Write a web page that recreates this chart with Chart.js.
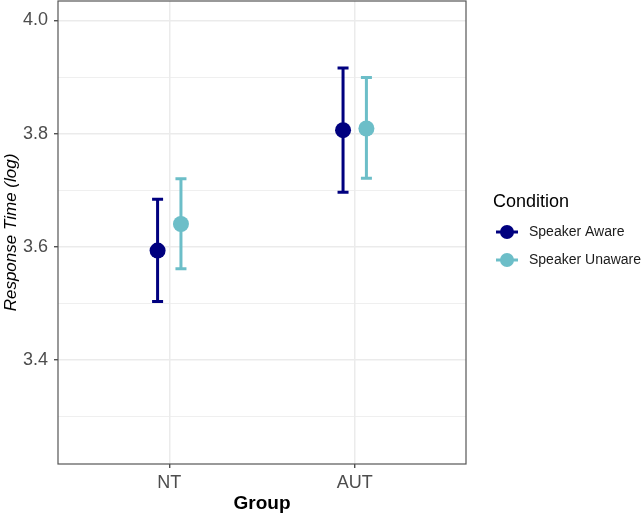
<!DOCTYPE html>
<html>
<head>
<meta charset="utf-8">
<script src="https://cdn.jsdelivr.net/npm/chart.js@4.4.1/dist/chart.umd.min.js"></script>
<style>
  html, body { margin: 0; padding: 0; background: #fff; }
  #wrap { width: 644px; height: 515px; position: relative; }
</style>
</head>
<body>
<div id="wrap"><canvas id="rtChart"></canvas></div>
<script>
// groups on x axis
const groups = ['NT', 'AUT'];
const conditions = ['Speaker Aware', 'Speaker Unaware'];

// means and error bar limits
const awareMean = [3.593, 3.806];
const awareLow = [3.503, 3.696];
const awareHigh = [3.684, 3.916];
const unawareMean = [3.640, 3.809];
const unawareLow = [3.561, 3.721];
const unawareHigh = [3.720, 3.899];

const yTicks = [3.3, 3.4, 3.5, 3.6, 3.7, 3.8, 3.9, 4.0];
const majorTicks = [3.4, 3.6, 3.8, 4.0];

const colAware = '#00007F';
const colUnaware = '#6CBEC8';
const dodge = 0.063;
const fontFam = '"Liberation Sans", Arial, sans-serif';

(()=>{
    const ctx = document.querySelector('#rtChart');

    const mkData = (means, lo, hi, off) => means.map((m, i) => ({
        x: i + 1 + off, y: m, lo: lo[i], hi: hi[i]
    }));
    const isMajor = v => majorTicks.some(m => Math.abs(m - v) < 1e-6);

    const errorBars = {
        id: 'errorBars',
        beforeDatasetsDraw(chart) {
            const c = chart.ctx;
            const xs = chart.scales.x, ys = chart.scales.y;
            chart.data.datasets.forEach(ds => {
                c.save();
                c.strokeStyle = ds.borderColor;
                c.lineWidth = 3;
                ds.data.forEach(p => {
                    const px = xs.getPixelForValue(p.x);
                    const yl = ys.getPixelForValue(p.lo);
                    const yh = ys.getPixelForValue(p.hi);
                    c.beginPath();
                    c.moveTo(px, yl); c.lineTo(px, yh);
                    c.moveTo(px - 5.5, yl); c.lineTo(px + 5.5, yl);
                    c.moveTo(px - 5.5, yh); c.lineTo(px + 5.5, yh);
                    c.stroke();
                });
                c.restore();
            });
        },
        afterDatasetsDraw(chart) {
            // panel border + legend
            const c = chart.ctx;
            const a = chart.chartArea;
            c.save();
            c.strokeStyle = '#555555';
            c.lineWidth = 1.2;
            c.strokeRect(a.left, a.top, a.right - a.left, a.bottom - a.top);

            c.fillStyle = '#000';
            c.font = '18px ' + fontFam;
            c.textBaseline = 'middle';
            c.textAlign = 'left';
            c.fillText('Condition', 493, 202);

            const cols = [colAware, colUnaware];
            const ys = [232, 260];
            cols.forEach((col, i) => {
                c.strokeStyle = col;
                c.fillStyle = col;
                c.lineWidth = 3;
                c.beginPath();
                c.moveTo(496, ys[i]); c.lineTo(518, ys[i]);
                c.stroke();
                c.beginPath();
                c.arc(507, ys[i], 7, 0, Math.PI * 2);
                c.fill();
                c.fillStyle = '#1a1a1a';
                c.font = '14px ' + fontFam;
                c.fillText(conditions[i], 529, ys[i]);
            });
            c.restore();
        }
    };

    new Chart(ctx, {
        type: 'scatter',
        data: {
            datasets: [
                {
                    label: conditions[0],
                    data: mkData(awareMean, awareLow, awareHigh, -dodge),
                    backgroundColor: colAware,
                    borderColor: colAware,
                    pointRadius: 8,
                    pointHoverRadius: 8,
                    borderWidth: 0
                },
                {
                    label: conditions[1],
                    data: mkData(unawareMean, unawareLow, unawareHigh, dodge),
                    backgroundColor: colUnaware,
                    borderColor: colUnaware,
                    pointRadius: 8,
                    pointHoverRadius: 8,
                    borderWidth: 0
                }
            ]
        },
        options: {
            responsive: true,
            maintainAspectRatio: false,
            animation: false,
            layout: {
                autoPadding: false,
                padding: { top: 1, right: 178, left: 0, bottom: 0 }
            },
            plugins: {
                legend: { display: false },
                tooltip: { enabled: false }
            },
            scales: {
                x: {
                    type: 'linear',
                    min: 0.4,
                    max: 2.6,
                    afterBuildTicks: function(scale) {
                        scale.ticks = groups.map((g, i) => ({ value: i + 1 }));
                    },
                    afterFit: function(scale) {
                        scale.height = 51;
                        scale.paddingLeft = 0;
                        scale.paddingRight = 0;
                    },
                    border: { display: false },
                    grid: {
                        color: '#EBEBEB',
                        lineWidth: 1.5,
                        tickColor: '#333333',
                        tickLength: 4,
                        tickWidth: 1.2
                    },
                    ticks: {
                        padding: 4,
                        color: '#4D4D4D',
                        font: { family: fontFam, size: 18 },
                        callback: function(value) {
                            return groups[Math.round(value) - 1] || '';
                        }
                    },
                    title: {
                        display: true,
                        text: 'Group',
                        color: '#000',
                        padding: { top: 0, bottom: 0 },
                        font: { family: fontFam, size: 19, weight: 'bold' }
                    }
                },
                y: {
                    type: 'linear',
                    min: 3.2155,
                    max: 4.0345,
                    afterBuildTicks: function(scale) {
                        scale.ticks = yTicks.map(v => ({ value: v }));
                    },
                    afterFit: function(scale) {
                        scale.width = 58;
                        scale.paddingTop = 0;
                        scale.paddingBottom = 0;
                    },
                    border: { display: false },
                    grid: {
                        color: '#EBEBEB',
                        lineWidth: function(c) {
                            return isMajor(c.tick.value) ? 1.5 : 0.8;
                        },
                        tickColor: function(c) {
                            return isMajor(c.tick.value) ? '#333333' : 'rgba(0,0,0,0)';
                        },
                        tickLength: 4,
                        tickWidth: 1.2
                    },
                    ticks: {
                        padding: 6,
                        color: '#4D4D4D',
                        font: { family: fontFam, size: 18 },
                        callback: function(value) {
                            return isMajor(value) ? value.toFixed(1) : '';
                        }
                    },
                    title: {
                        display: true,
                        text: 'Response Time (log)',
                        color: '#000',
                        padding: { top: 1, bottom: 0 },
                        font: { family: fontFam, size: 17, style: 'italic' }
                    }
                }
            }
        },
        plugins: [errorBars]
    });
})();
</script>
</body>
</html>
